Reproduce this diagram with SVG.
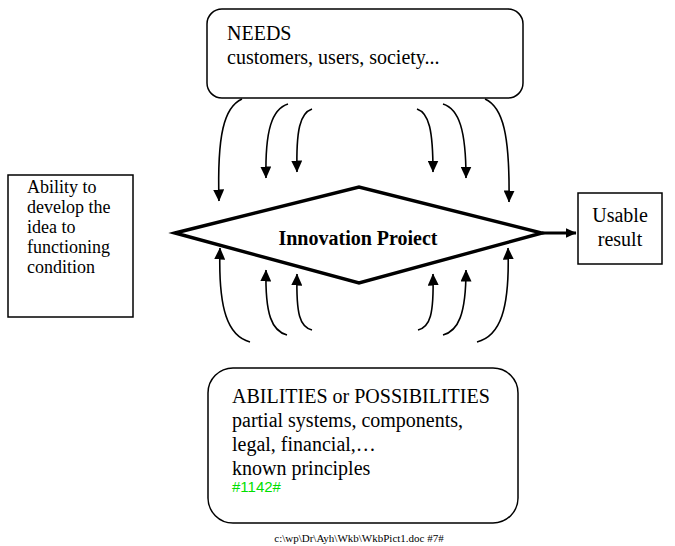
<svg xmlns="http://www.w3.org/2000/svg" width="675" height="546" viewBox="0 0 675 546">
  <defs>
    <style>
      .box { fill: #ffffff; stroke: #000000; stroke-width: 1.5; }
      .diamond { fill: #ffffff; stroke: #000000; stroke-width: 3.4; stroke-linejoin: miter; }
      .t { font-family: "Liberation Serif", "Times New Roman", serif; fill: #000000; }
      .t20 { font-size: 20px; }
      .t18 { font-size: 18px; }
      .title { font-size: 20px; font-weight: bold; }
      .code { font-family: "Liberation Sans", Arial, sans-serif; font-size: 15px; fill: #00e000; }
      .foot { font-family: "Liberation Serif", "Times New Roman", serif; font-size: 11px; fill: #000000; }
      .flow { fill: none; stroke: #000000; stroke-width: 1.6; }
      .out { fill: none; stroke: #000000; stroke-width: 3; }
    </style>
    <marker id="head" viewBox="0 0 12 11" markerWidth="12" markerHeight="11" refX="11.5" refY="5.5" orient="auto" markerUnits="userSpaceOnUse">
      <path d="M0,0 L12,5.5 L0,11 z" fill="#000000"/>
    </marker>
    <marker id="headOut" viewBox="0 0 11 10" markerWidth="11" markerHeight="10" refX="10.5" refY="5" orient="auto" markerUnits="userSpaceOnUse">
      <path d="M0,0 L11,5 L0,10 z" fill="#000000"/>
    </marker>
  </defs>

  <g id="needs">
    <rect class="box" x="207" y="9" width="316" height="89" rx="15" ry="15"/>
    <text class="t t20" x="227" y="40">NEEDS</text>
    <text class="t t20" x="227" y="64">customers, users, society...</text>
  </g>

  <g id="ability">
    <rect class="box" x="8" y="175" width="125" height="142"/>
    <text class="t t18" x="27" y="193">Ability to</text>
    <text class="t t18" x="27" y="213">develop the</text>
    <text class="t t18" x="27" y="233">idea to</text>
    <text class="t t18" x="27" y="253">functioning</text>
    <text class="t t18" x="27" y="273">condition</text>
  </g>

  <g id="project">
    <polygon class="diamond" points="175,233 359,187 542,233 359,283"/>
    <text class="t title" x="358" y="245" text-anchor="middle">Innovation Proiect</text>
  </g>

  <g id="result">
    <rect class="box" x="578" y="193" width="84" height="71"/>
    <text class="t t20" x="620" y="222" text-anchor="middle">Usable</text>
    <text class="t t20" x="620" y="246" text-anchor="middle">result</text>
  </g>

  <g id="abilities">
    <rect class="box" x="208" y="368" width="310" height="155" rx="25" ry="25"/>
    <text class="t t20" x="232" y="403">ABILITIES or POSSIBILITIES</text>
    <text class="t t20" x="232" y="427">partial systems, components,</text>
    <text class="t t20" x="232" y="451">legal, financial,…</text>
    <text class="t t20" x="232" y="475">known principles</text>
    <text class="code" x="232" y="492">#1142#</text>
  </g>

  <g id="connectors">
    <!-- needs flowing down into the project -->
    <path class="flow" marker-end="url(#head)" d="M242,99 C224,107 217,135 219,201"/>
    <path class="flow" marker-end="url(#head)" d="M288,104 C272,109 265,130 266,178"/>
    <path class="flow" marker-end="url(#head)" d="M312,109 C300,113 296,130 297,172"/>
    <path class="flow" marker-end="url(#head)" d="M417,109 C429,113 433,130 433,172"/>
    <path class="flow" marker-end="url(#head)" d="M443,104 C459,109 466,130 466,178"/>
    <path class="flow" marker-end="url(#head)" d="M485,99 C503,107 510,135 509,202"/>
    <!-- abilities flowing up into the project -->
    <path class="flow" marker-end="url(#head)" d="M250,342 C228,336 218,310 220,248"/>
    <path class="flow" marker-end="url(#head)" d="M287,335 C272,331 265,315 266,270"/>
    <path class="flow" marker-end="url(#head)" d="M312,330 C300,327 296,315 297,274"/>
    <path class="flow" marker-end="url(#head)" d="M418,330 C430,327 434,315 433,274"/>
    <path class="flow" marker-end="url(#head)" d="M443,335 C458,331 466,315 466,270"/>
    <path class="flow" marker-end="url(#head)" d="M477,342 C500,336 510,310 508,248"/>
    <!-- project output -->
    <path class="out" marker-end="url(#headOut)" d="M542,233 L576,233"/>
  </g>

  <text class="foot" x="359" y="542" text-anchor="middle">c:\wp\Dr\Ayh\Wkb\WkbPict1.doc #7#</text>
</svg>
